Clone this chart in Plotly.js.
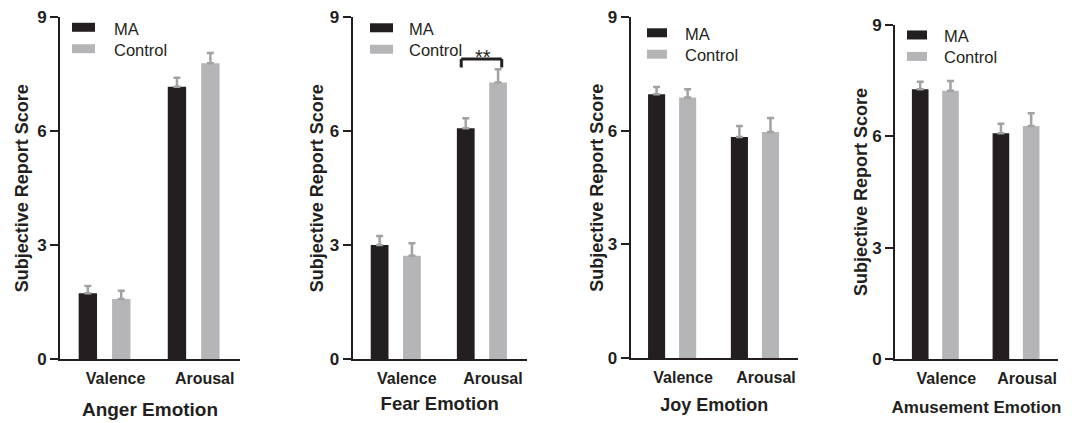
<!DOCTYPE html>
<html>
<head>
<meta charset="utf-8">
<script src="https://cdn.plot.ly/plotly-3.0.1.min.js"></script>
<style>html,body{margin:0;padding:0;background:#fff;}#chart{width:1072px;height:423px;}</style>
</head>
<body>
<div id="chart"></div>
<script>
// ---- data ----
var categories = ["Valence", "Arousal"];
var panelTitles = ["Anger Emotion", "Fear Emotion", "Joy Emotion", "Amusement Emotion"];
var seriesNames = ["MA", "Control"];
var yTickVals = [0, 3, 6, 9];
var yTickText = ["0", "3", "6", "9"];

var angerMA = [1.73, 7.17];
var angerMAErr = [0.19, 0.24];
var angerControl = [1.58, 7.79];
var angerControlErr = [0.22, 0.27];

var fearMA = [3.00, 6.08];
var fearMAErr = [0.24, 0.26];
var fearControl = [2.72, 7.28];
var fearControlErr = [0.33, 0.35];

var joyMA = [6.97, 5.84];
var joyMAErr = [0.19, 0.29];
var joyControl = [6.88, 5.97];
var joyControlErr = [0.22, 0.37];

var amuseMA = [7.27, 6.08];
var amuseMAErr = [0.20, 0.26];
var amuseControl = [7.23, 6.28];
var amuseControlErr = [0.26, 0.34];

var significance = "**";

// ---- styling ----
var W = 1072, H = 423;
var colMA = "#231f20", colCtrl = "#b5b5b8", colErr = "#a2a2a5", ink = "#231f20";
var FONT = "Liberation Sans, Arial, Helvetica, sans-serif";
function px(x) { return x / W; }
function py(y) { return 1 - y / H; }

var panels = [
  {ma: angerMA, maE: angerMAErr, ct: angerControl, ctE: angerControlErr,
   xd: [60, 240], yd: [359, 17.3], xtSize: 19, xtStand: 16, ytStand: 4,
   leg: {sx: [72, 95], mid: 38, tx: 112}},
  {ma: fearMA, maE: fearMAErr, ct: fearControl, ctE: fearControlErr,
   xd: [352.7, 526.7], yd: [359, 17.3], xtSize: 18.5, xtStand: 11, ytStand: 1.5,
   leg: {sx: [370, 393], mid: 38.5, tx: 407}},
  {ma: joyMA, maE: joyMAErr, ct: joyControl, ctE: joyControlErr,
   xd: [630.7, 798], yd: [358, 17.3], xtSize: 18, xtStand: 13, ytStand: 0,
   leg: {sx: [647, 667], mid: 43.5, tx: 683}},
  {ma: amuseMA, maE: amuseMAErr, ct: amuseControl, ctE: amuseControlErr,
   xd: [895, 1058], yd: [359, 25], xtSize: 17, xtStand: 15, ytStand: 0,
   leg: {sx: [907, 927], mid: 45.7, tx: 942}}
];

var data = [];
var layout = {
  width: W, height: H,
  margin: {l: 0, r: 0, t: 0, b: 0},
  paper_bgcolor: "#fff", plot_bgcolor: "#fff",
  showlegend: false,
  barmode: "group",
  bargap: 0.25,
  bargroupgap: 0.45,
  font: {family: FONT, color: ink},
  shapes: [], annotations: []
};

var LEG_FS = 16.5, LEG_LH = LEG_FS * 1.3;

panels.forEach(function (p, i) {
  var n = i === 0 ? "" : String(i + 1);
  var xa = "x" + n, ya = "y" + n;
  data.push({
    type: "bar", name: seriesNames[0], x: categories, y: p.ma,
    xaxis: xa, yaxis: ya, marker: {color: colMA, line: {width: 0}},
    error_y: {type: "data", symmetric: false, array: p.maE, arrayminus: [0, 0],
              color: colErr, thickness: 2.5, width: 3.5}
  });
  data.push({
    type: "bar", name: seriesNames[1], x: categories, y: p.ct,
    xaxis: xa, yaxis: ya, marker: {color: colCtrl, line: {width: 0}},
    error_y: {type: "data", symmetric: false, array: p.ctE, arrayminus: [0, 0],
              color: colErr, thickness: 2.5, width: 3.5}
  });
  layout["xaxis" + n] = {
    domain: [px(p.xd[0]), px(p.xd[1])], anchor: ya, type: "category",
    range: [-0.5, 1.52], showline: true, linecolor: ink, linewidth: 2,
    ticks: "", showgrid: false, zeroline: false, fixedrange: true,
    ticklabelshift: 11, ticklabelstandoff: 4,
    tickfont: {family: FONT, size: 16, color: ink, weight: "bold"},
    title: {text: "<b>" + panelTitles[i] + "</b>", standoff: p.xtStand,
            font: {family: FONT, size: p.xtSize, color: ink, weight: "bold"}}
  };
  layout["yaxis" + n] = {
    domain: [py(p.yd[0]), py(p.yd[1])], anchor: xa, range: [0, 9],
    tickmode: "array", tickvals: yTickVals, ticktext: yTickText,
    showline: true, linecolor: ink, linewidth: 2,
    ticks: "outside", ticklen: 8, tickwidth: 2, tickcolor: ink,
    showgrid: false, zeroline: false, fixedrange: true,
    tickfont: {family: FONT, size: 17, color: ink, weight: "bold"},
    title: {text: "<b>Subjective Report Score</b>", standoff: p.ytStand,
            font: {family: FONT, size: 18, color: ink, weight: "bold"}}
  };
  // legend: swatches + one two-line label
  var L = p.leg;
  var yMA = L.mid - LEG_LH / 2, yCt = L.mid + LEG_LH / 2;
  [[yMA, colMA], [yCt, colCtrl]].forEach(function (it) {
    layout.shapes.push({type: "rect", xref: "paper", yref: "paper",
      x0: px(L.sx[0]), x1: px(L.sx[1]), y0: py(it[0] + 4.5), y1: py(it[0] - 4.5),
      fillcolor: it[1], line: {width: 0}});
  });
  layout.annotations.push({xref: "paper", yref: "paper",
    x: px(L.tx), y: py(L.mid + 1), xanchor: "left", yanchor: "middle", align: "left",
    showarrow: false, text: seriesNames.join("<br>"),
    font: {family: FONT, size: LEG_FS, color: ink}});
});

// significance bracket on Fear / Arousal
var bx0 = 0.76, bx1 = 1.23, byTop = 7.9, byLeg = 7.68;
layout.shapes.push({type: "line", xref: "x2", yref: "y2", x0: bx0, x1: bx1, y0: byTop, y1: byTop, line: {color: ink, width: 3}});
layout.shapes.push({type: "line", xref: "x2", yref: "y2", x0: bx0, x1: bx0, y0: byTop, y1: byLeg, line: {color: ink, width: 3}});
layout.shapes.push({type: "line", xref: "x2", yref: "y2", x0: bx1, x1: bx1, y0: byTop, y1: byLeg, line: {color: ink, width: 3}});
layout.annotations.push({xref: "x2", yref: "y2", x: 1.01, y: 7.96, xanchor: "center", yanchor: "middle",
  showarrow: false, text: significance, font: {family: FONT, size: 20, color: ink}});

Plotly.newPlot("chart", data, layout, {displayModeBar: false, staticPlot: true});
</script>
</body>
</html>
